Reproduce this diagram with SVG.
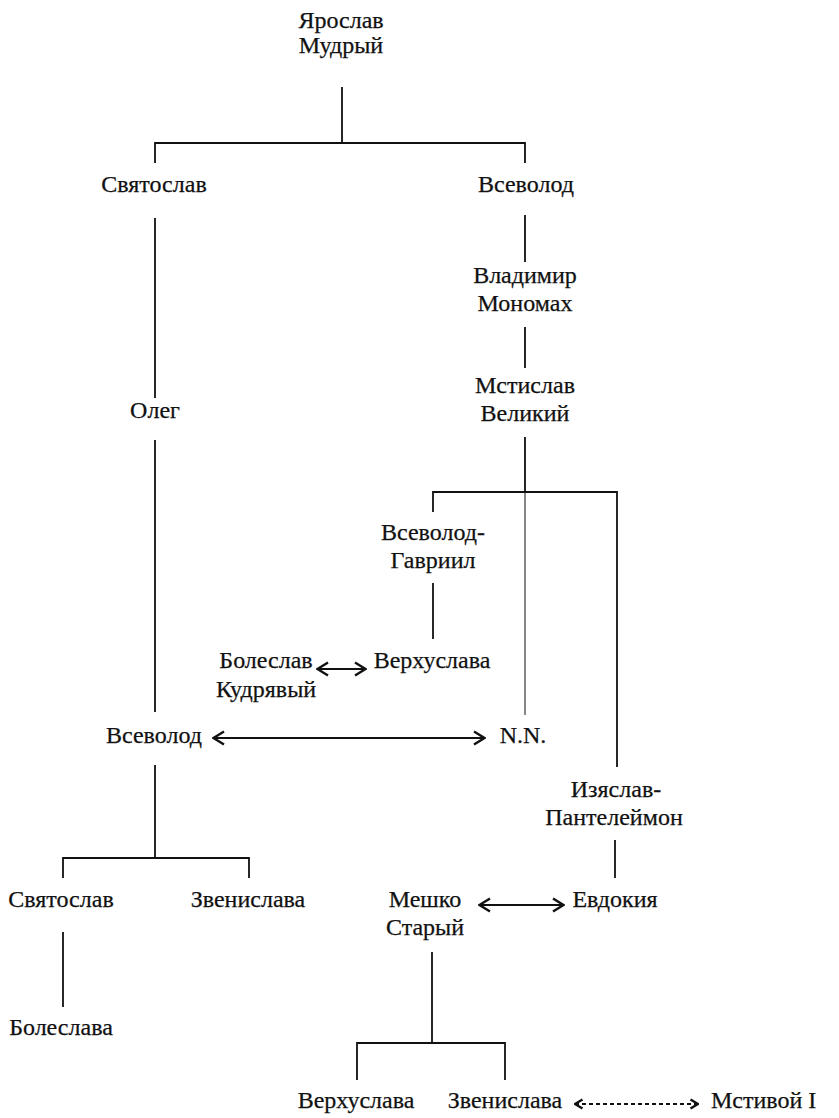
<svg xmlns="http://www.w3.org/2000/svg" width="839" height="1118" viewBox="0 0 839 1118">
<style>
text{font-family:"Liberation Serif","Times New Roman",serif;font-size:24px;fill:#111;stroke:#111;stroke-width:0.25;text-anchor:middle}
.l{stroke:#111;stroke-width:1.8;fill:none}
.t{stroke:#111;stroke-width:1;fill:none}
.a{stroke:#111;stroke-width:2.2;fill:none;marker-start:url(#ah);marker-end:url(#ah)}
.d{stroke:#111;stroke-width:1.8;fill:none;stroke-dasharray:4 3;marker-start:url(#ah2);marker-end:url(#ah2)}
</style>
<defs>
<marker id="ah" viewBox="0 0 14 16" refX="13" refY="8" markerWidth="14" markerHeight="16" markerUnits="userSpaceOnUse" orient="auto-start-reverse"><path d="M2,1.5 L12.5,8 L2,14.5" fill="none" stroke="#111" stroke-width="2.4"/></marker>
<marker id="ah2" viewBox="0 0 10 12" refX="9" refY="6" markerWidth="10" markerHeight="12" markerUnits="userSpaceOnUse" orient="auto-start-reverse"><path d="M1.5,1.5 L9,6 L1.5,10.5" fill="none" stroke="#111" stroke-width="2.4"/></marker>
</defs>
<g id="connectors">
<path class="l" d="M342,87 V143 M155,163 V143 H525 V163"/>
<path class="l" d="M155,218 V398 M155,440 V712"/>
<path class="l" d="M525,215 V262 M525,327 V368 M525,437 V492"/>
<path class="l" d="M433,512 V492 H617 V767"/>
<path class="t" d="M525,492 V715"/>
<path class="l" d="M433,583 V639"/>
<path class="a" d="M317,669 H366"/>
<path class="a" d="M213,738 H485"/>
<path class="l" d="M155,765 V858 M63,878 V858 H249 V878"/>
<path class="l" d="M615,840 V878"/>
<path class="a" d="M479,905 H564"/>
<path class="l" d="M63,932 V1007"/>
<path class="l" d="M432,952 V1043 M357,1080 V1043 H505 V1080"/>
<path class="d" d="M575,1104 H698"/>
</g>
<g id="n-yaroslav"><text x="341" y="28">Ярослав</text><text x="341" y="53">Мудрый</text></g>
<g id="n-svyatoslav"><text x="154" y="192">Святослав</text></g>
<g id="n-vsevolod1"><text x="526" y="192">Всеволод</text></g>
<g id="n-vladimir"><text x="525" y="283">Владимир</text><text x="525" y="311">Мономах</text></g>
<g id="n-mstislav"><text x="525" y="393">Мстислав</text><text x="525" y="421">Великий</text></g>
<g id="n-oleg"><text x="155" y="418">Олег</text></g>
<g id="n-vsevolod-gavriil"><text x="433" y="540">Всеволод-</text><text x="433" y="568">Гавриил</text></g>
<g id="n-boleslav"><text x="266" y="668">Болеслав</text><text x="266" y="697">Кудрявый</text></g>
<g id="n-verkhuslava1"><text x="432" y="668">Верхуслава</text></g>
<g id="n-vsevolod2"><text x="154" y="743">Всеволод</text></g>
<g id="n-nn"><text x="523" y="743">N.N.</text></g>
<g id="n-izyaslav"><text x="616" y="797">Изяслав-</text><text x="614" y="825">Пантелеймон</text></g>
<g id="n-svyatoslav2"><text x="61" y="907">Святослав</text></g>
<g id="n-zvenislava1"><text x="248" y="907">Звенислава</text></g>
<g id="n-meshko"><text x="425" y="907">Мешко</text><text x="425" y="935">Старый</text></g>
<g id="n-evdokiya"><text x="615" y="907">Евдокия</text></g>
<g id="n-boleslava"><text x="61" y="1035">Болеслава</text></g>
<g id="n-verkhuslava2"><text x="356" y="1108">Верхуслава</text></g>
<g id="n-zvenislava2"><text x="505" y="1108">Звенислава</text></g>
<g id="n-mstivoy"><text x="711" y="1108" style="text-anchor:start">Мстивой I</text></g>
</svg>
